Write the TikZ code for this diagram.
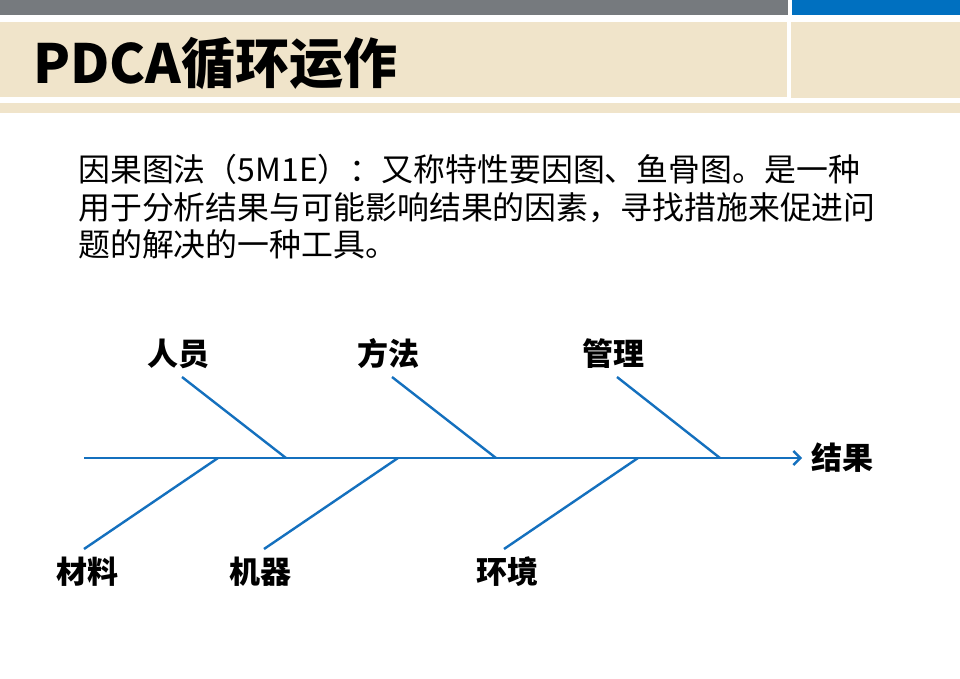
\documentclass[tikz,border=0pt]{standalone}
\usepackage{fontspec}
\usetikzlibrary{arrows.meta}
\newfontfamily\cjk{Noto Sans CJK SC}
\definecolor{hdrgray}{RGB}{118,122,126}
\definecolor{hdrblue}{RGB}{0,112,192}
\definecolor{beige}{RGB}{240,228,202}
\definecolor{bone}{RGB}{20,112,190}
\tikzset{
  bonel/.style={draw=bone, line width=2.4pt},
  lab/.style={font=\cjk\bfseries\fontsize{31}{36}\selectfont, inner sep=0pt},
  band/.style={fill=#1, draw=none}
}
\begin{document}
\begin{tikzpicture}[x=1pt,y=-1pt]
\useasboundingbox (0,0) rectangle (960,678);
\fill[white] (0,0) rectangle (960,678);
% header
\path[band=hdrgray] (0,0) rectangle (788,15);
\path[band=hdrblue] (792,0) rectangle (960,15);
\path[band=beige] (0,22) rectangle (787,97);
\path[band=beige] (791,22) rectangle (960,98);
\path[band=beige] (0,103) rectangle (960,113);
\node[anchor=west, inner sep=0pt, font=\cjk\bfseries\fontsize{54}{62}\selectfont] (title) at (33,63) {PDCA循环运作};
% body text
\node[anchor=north west, inner sep=0pt, align=left, font=\cjk\fontsize{31.9}{37.5}\selectfont] (body) at (78,154)
  {因果图法（5M1E）：又称特性要因图、鱼骨图。是一种\\用于分析结果与可能影响结果的因素，寻找措施来促进问\\题的解决的一种工具。};
% fishbone
\coordinate (s0) at (84,458);
\coordinate (s1) at (802,458);
\draw[bonel, -{Straight Barb[length=7pt,width=14pt,line width=2.4pt]}] (s0) -- (s1);
\node[lab] (result) at (842,458) {结果};
% top branches
\node[lab] (ren) at (178,354) {人员};
\node[lab] (fang) at (388,354) {方法};
\node[lab] (guan) at (613,354) {管理};
\coordinate (t1a) at (182,377); \coordinate (t1b) at (286,458);
\coordinate (t2a) at (392,377); \coordinate (t2b) at (496,458);
\coordinate (t3a) at (617,377); \coordinate (t3b) at (720,458);
\draw[bonel] (t1a) -- (t1b);
\draw[bonel] (t2a) -- (t2b);
\draw[bonel] (t3a) -- (t3b);
% bottom branches
\node[lab] (cai) at (87,572) {材料};
\node[lab] (ji) at (260,572) {机器};
\node[lab] (huan) at (507,572) {环境};
\coordinate (b1a) at (84,549); \coordinate (b1b) at (218,458);
\coordinate (b2a) at (264,549); \coordinate (b2b) at (398,458);
\coordinate (b3a) at (504,549); \coordinate (b3b) at (638,458);
\draw[bonel] (b1a) -- (b1b);
\draw[bonel] (b2a) -- (b2b);
\draw[bonel] (b3a) -- (b3b);
\end{tikzpicture}
\end{document}
